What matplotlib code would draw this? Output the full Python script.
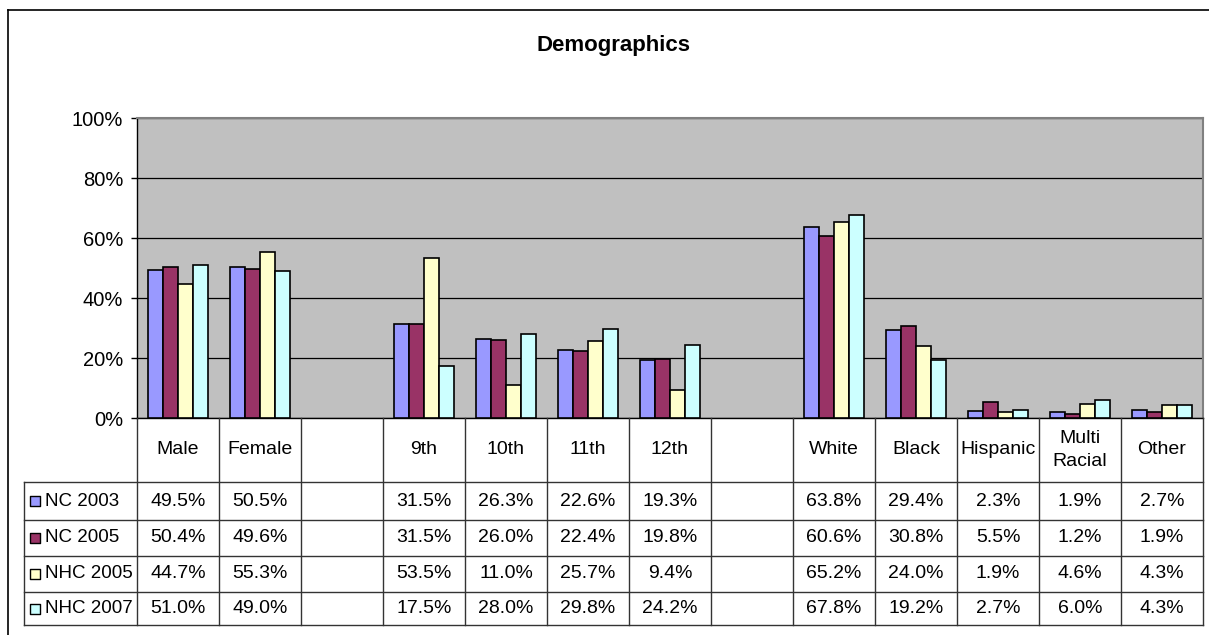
import matplotlib.pyplot as plt
from matplotlib.lines import Line2D
import numpy as np

plt.rcParams['font.family'] = ['Liberation Sans', 'DejaVu Sans']

# data (blank columns are spacer categories)
categories = ['Male', 'Female', '', '9th', '10th', '11th', '12th', '',
              'White', 'Black', 'Hispanic', 'Multi\nRacial', 'Other']
series = ['NC 2003', 'NC 2005', 'NHC 2005', 'NHC 2007']
nc_2003 = [49.5, 50.5, None, 31.5, 26.3, 22.6, 19.3, None, 63.8, 29.4, 2.3, 1.9, 2.7]
nc_2005 = [50.4, 49.6, None, 31.5, 26.0, 22.4, 19.8, None, 60.6, 30.8, 5.5, 1.2, 1.9]
nhc_2005 = [44.7, 55.3, None, 53.5, 11.0, 25.7, 9.4, None, 65.2, 24.0, 1.9, 4.6, 4.3]
nhc_2007 = [51.0, 49.0, None, 17.5, 28.0, 29.8, 24.2, None, 67.8, 19.2, 2.7, 6.0, 4.3]
values = [nc_2003, nc_2005, nhc_2005, nhc_2007]
colors = ['#9999FF', '#993366', '#FFFFCC', '#CCFFFF']
yticks = [0, 20, 40, 60, 80, 100]

W, H = 1209, 635
fig = plt.figure(figsize=(W / 100, H / 100), dpi=100)

# outer chart frame (left and top edges visible)
fig.add_artist(Line2D([8 / W, 8 / W], [0, 1 - 10 / H], color='black', lw=1.2))
fig.add_artist(Line2D([8 / W, 1], [1 - 10 / H, 1 - 10 / H], color='black', lw=1.2))

fig.text(614 / W, 1 - 46 / H, 'Demographics', ha='center', va='center',
         fontsize=16, fontweight='bold')

# plot area
px_l, px_r, px_t, px_b = 137, 1203, 118, 418
ax = fig.add_axes([px_l / W, 1 - px_b / H, (px_r - px_l) / W, (px_b - px_t) / H])
ax.set_facecolor('#C0C0C0')
n = len(categories)
x = np.arange(n)
bw = 0.18
for k, (vals, col) in enumerate(zip(values, colors)):
    idx = [i for i, v in enumerate(vals) if v is not None]
    ax.bar(x[idx] + (k - 1.5) * bw, [vals[i] for i in idx], width=bw,
           color=col, edgecolor='black', linewidth=1.2, zorder=3)
ax.set_xlim(-0.5, n - 0.5)
ax.set_ylim(0, 100)
ax.set_xticks([])
ax.set_yticks(yticks)
ax.set_yticklabels([f'{t}%' for t in yticks], fontsize=14.5)
ax.tick_params(axis='y', direction='out', length=4, pad=6, width=1)
ax.yaxis.grid(True, color='black', lw=0.9)
ax.set_axisbelow(True)
for s in ['top', 'right']:
    ax.spines[s].set_color('#808080')
    ax.spines[s].set_linewidth(1.5)
for s in ['left', 'bottom']:
    ax.spines[s].set_color('black')
    ax.spines[s].set_linewidth(1.0)

# data table below the plot
tb_l, tb_b = 24, 625
legw = (px_l - tb_l) / ((px_r - px_l) / n)
tax = fig.add_axes([tb_l / W, 1 - tb_b / H, (px_r - tb_l) / W, (tb_b - px_b) / H])
tax.set_xlim(-0.5 - legw, n - 0.5)
tax.set_ylim(tb_b - px_b, 0)
tax.axis('off')
rows = [0, 64, 102, 138, 174, 207]
lc = '#333333'
for i in range(n + 1):
    tax.plot([i - 0.5, i - 0.5], [0, rows[-1]], color=lc, lw=1, clip_on=False)
tax.plot([-0.5 - legw, -0.5 - legw], [rows[1], rows[-1]], color=lc, lw=1, clip_on=False)
for r in rows[1:]:
    tax.plot([-0.5 - legw, n - 0.5], [r, r], color=lc, lw=1, clip_on=False)

for i, c in enumerate(categories):
    tax.text(i, (rows[0] + rows[1]) / 2, c, ha='center', va='center',
             fontsize=14, linespacing=1.5)

for k, (name, vals, col) in enumerate(zip(series, values, colors)):
    yc = (rows[k + 1] + rows[k + 2]) / 2
    tax.scatter([-0.5 - legw + 11 / 82], [yc], marker='s', s=52, color=col,
                edgecolor='black', linewidth=1, clip_on=False)
    tax.text(-0.5 - legw + 21 / 82, yc, name, ha='left', va='center', fontsize=13.5)
    for i, v in enumerate(vals):
        if v is not None:
            tax.text(i, yc, f'{v:.1f}%', ha='center', va='center', fontsize=14)

fig.savefig('out.png', dpi=100)
